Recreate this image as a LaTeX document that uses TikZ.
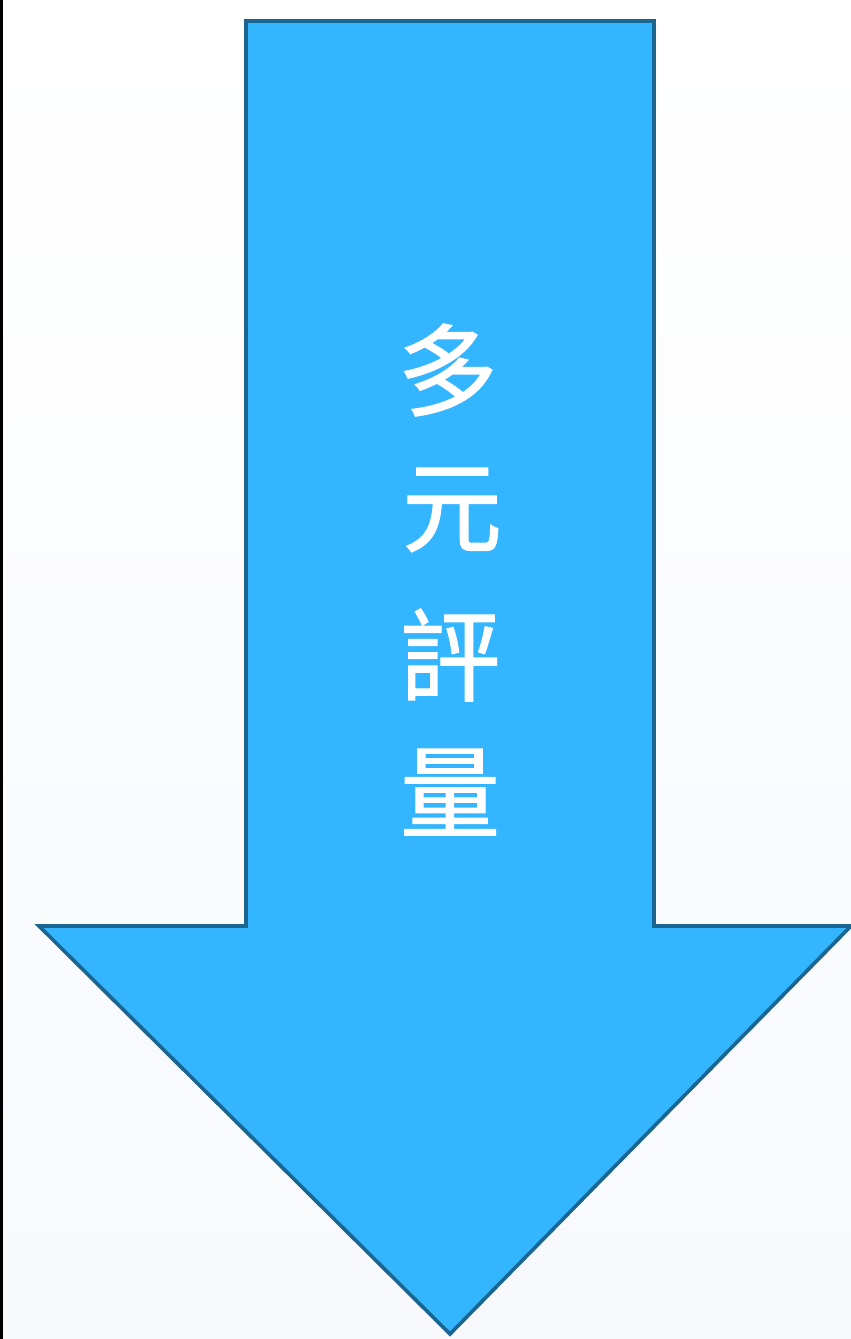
\documentclass[tikz,border=0pt]{standalone}
\usepackage{fontspec}
\newfontfamily\cjk[FakeBold=1.2]{Noto Sans CJK TC}
\definecolor{arrowfill}{HTML}{33B5FF}
\definecolor{arrowline}{HTML}{1A6690}
\definecolor{bgbottom}{HTML}{F7F9FC}
\begin{document}
\begin{tikzpicture}[x=1pt,y=-1pt,
  chr/.style={text=white,font=\cjk\fontsize{100}{100}\selectfont,inner sep=0pt,anchor=center}]
\useasboundingbox (0,0) rectangle (851,1339);
\shade[top color=white,bottom color=bgbottom] (0,0) rectangle (851,1339);
\fill[black] (0,0) rectangle (2.5,1339);
\draw[fill=arrowfill,draw=arrowline,line width=3.6pt,line join=miter]
  (246,21) -- (654,21) -- (654,926) -- (851,926) -- (450,1334) -- (39,926) -- (246,926) -- cycle;
\node[chr] (c1) at (448,370) {多};
\node[chr] (c2) at (452,510) {元};
\node[chr] (c3) at (450,655) {評};
\node[chr] (c4) at (450,792) {量};
\end{tikzpicture}
\end{document}
